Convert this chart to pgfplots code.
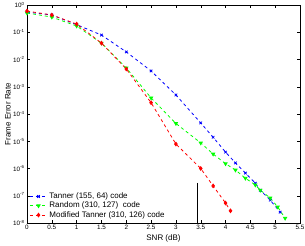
\documentclass[border=0pt]{standalone}
\usepackage{fontspec}
\setmainfont{Liberation Sans}
\usepackage{pgfplots}
\pgfplotsset{compat=1.18}
\begin{document}
\begin{tikzpicture}
\begin{axis}[
  scale only axis,
  width=273pt, height=218pt,
  xmin=0, xmax=5.5, ymin=1e-8, ymax=1,
  ymode=log, log basis y=10,
  xtick={0,0.5,1,1.5,2,2.5,3,3.5,4,4.5,5,5.5},
  xticklabels={0,0.5,1,1.5,2,2.5,3,3.5,4,4.5,5,5.5},
  ytick={1e-8,1e-7,1e-6,1e-5,1e-4,1e-3,1e-2,1e-1,1},
  yticklabel={10\textsuperscript{\pgfmathparse{int(round(\tick))}\pgfmathresult}},
  tick align=inside,
  tick style={black, line width=0.4pt},
  major tick length=3pt, minor tick length=1.8pt,
  tick label style={font=\fontsize{6.3}{7}\selectfont},
  xticklabel style={yshift=1.5pt},
  yticklabel style={xshift=1pt},
  /pgf/number format/assume math mode=true,
  xlabel={SNR (dB)}, ylabel={Frame Error Rate},
  label style={font=\fontsize{8}{9}\selectfont},
  xlabel style={at={(axis description cs:0.5,-0.069)}, anchor=center},
  ylabel style={at={(axis description cs:-0.07,0.5)}, anchor=center},
  axis line style={black, line width=0.5pt},
  legend style={at={(0.005,0.005)}, anchor=south west, draw=none, fill=none,
    font=\fontsize{8}{9}\selectfont, row sep=-2pt, inner sep=1pt},
  legend cell align=left,
  every axis plot/.append style={line width=0.8pt, dashed},
]
\addplot[blue, mark=x, mark size=1.8pt, mark options={solid}] coordinates {
 (0,0.55) (0.5,0.43) (1,0.19) (1.5,0.079) (2,0.019) (2.5,3.8e-3) (3,5e-4)
 (3.5,4.7e-5) (3.75,1.4e-5) (4,4e-6) (4.2,1.6e-6) (4.4,6.8e-7) (4.6,2.9e-7)
 (4.7,1.6e-7) (4.9,6.9e-8) (5.1,2.5e-8)};
\addlegendentry{Tanner (155, 64) code}
\addplot[green, mark=triangle*, mark size=1.8pt, mark options={solid, rotate=180}] coordinates {
 (0,0.51) (0.5,0.36) (1,0.17) (1.5,0.04) (2,4.9e-3) (2.5,3.9e-4) (3,4.5e-5)
 (3.5,8.7e-6) (3.75,3.4e-6) (4,1.5e-6) (4.2,8.8e-7) (4.4,4.4e-7) (4.6,2.5e-7)
 (4.7,1.6e-7) (4.9,8.3e-8) (5.05,3.9e-8) (5.2,1.5e-8)};
\addlegendentry{Random (310, 127)\ \ code}
\addplot[red, mark=diamond*, mark size=1.8pt, mark options={solid}] coordinates {
 (0,0.6) (0.5,0.43) (1,0.2) (1.5,0.04) (2,4.5e-3) (2.5,2.6e-4) (3,7.9e-6)
 (3.5,1.0e-6) (3.75,2.3e-7) (4,5.4e-8) (4.1,2.8e-8)};
\addlegendentry{Modified Tanner (310, 126) code}
\draw[black, line width=0.4pt] (axis cs:3.43,3e-7) -- (axis cs:3.43,1e-8);
\end{axis}
\pgfresetboundingbox
\path[use as bounding box] ([xshift=-27pt,yshift=-22pt]current axis.south west) rectangle ([xshift=5pt,yshift=5pt]current axis.north east);
\end{tikzpicture}
\end{document}
